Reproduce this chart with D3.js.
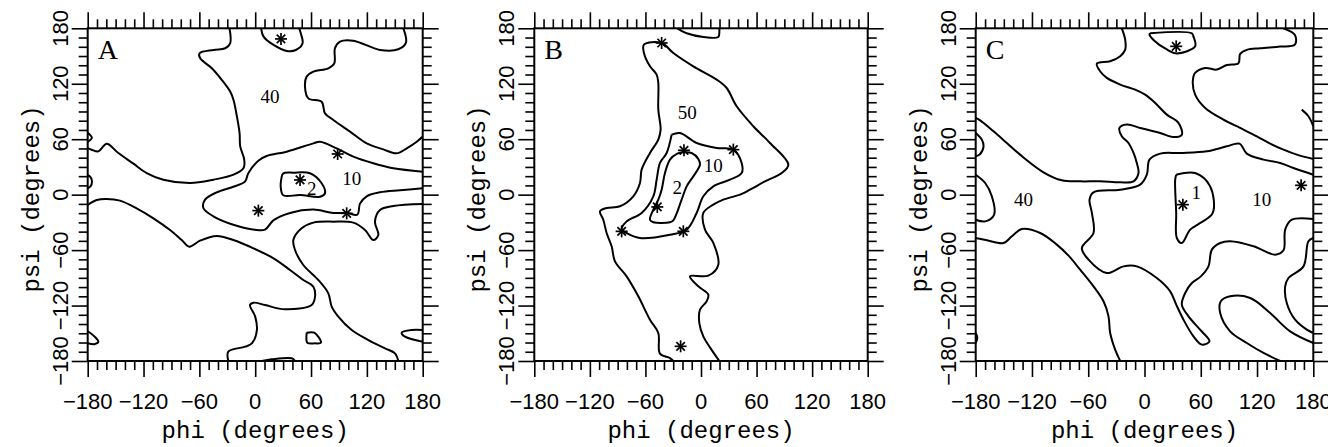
<!DOCTYPE html>
<html>
<head>
<meta charset="utf-8">
<script src="https://cdn.jsdelivr.net/npm/d3@7"></script>
<style>body{margin:0;background:#fff}</style>
</head>
<body>
<script>
// phi/psi maps, three panels. all data in degrees: [phi, psi]

var majorTicks = [-180, -120, -60, 0, 60, 120, 180];
var tickLabels = ["\u2212180", "\u2212120", "\u221260", "0", "60", "120", "180"];
var minorTicks = d3.range(-180, 181, 10).filter(function(v) { return v % 60 != 0; });
var panelNames = ["A", "B", "C"];

// Panel A contour lines
var contoursA = [
  [[6.4,180],[9,171],[19.7,162],[34,155.5],[43.7,156.5],[50.9,163.8],[49,174.6],[47.3,180]],
  [[-27.6,180],[-26.9,163.8],[-32.2,158.4],[-44.8,156.6],[-59.8,153],[-59.1,147.5],[-46.6,136.7],[-35.8,124],[-26.9,111.5],[-23.3,102.5],[-19.7,84.8],[-16.8,66.7],[-16.1,52.3],[-11.8,37.9],[-12.5,28.9],[-23.3,21.6],[-44.8,16.2],[-69.8,12.6],[-98.7,16.2],[-116.6,23.4],[-130.9,33.5],[-147.1,45],[-159.6,55.1],[-168.5,46.8],[-175.7,48.6],[-180,50.4]],
  [[-180,67],[-175.5,61.5],[-180,57]],
  [[-180,21],[-177,19],[-175.4,14],[-177,9],[-180,7]],
  [[-180,-11.2],[-170.3,-5.8],[-159.6,-4.7],[-145.3,-6.5],[-127.4,-14.8],[-109.4,-25.6],[-91.5,-38.3],[-79,-49.1],[-70.8,-56.3],[-59.3,-49.8],[-41.4,-44.7],[-23.5,-49.1],[-1.8,-58.1],[19.7,-68.9],[37.4,-81.5],[51.7,-92.4],[62.5,-99.6],[64.3,-110.4],[60.7,-119.4],[32,-124.1],[10.5,-119.4],[-1.8,-116.9],[-5.6,-119.4],[0,-132],[1.8,-146.5],[-3.6,-160.9],[-10.9,-164.5],[-28.9,-169.9],[-28.9,-180]],
  [[159.2,180],[162,164.5],[153.8,157.3],[134.1,156.6],[105.5,166.6],[91.1,165.6],[85.7,158.4],[85,142.1],[78.5,136.7],[62.5,133.1],[55.3,127.7],[53.5,116.9],[57.1,104.2],[71.4,100.6],[75,88],[84,80.8],[101.9,68.2],[119.8,55.5],[137.7,49],[152,44.7],[162.8,50.1],[173.6,57.3],[180,62.8]],
  [[180,24.9],[148.4,28.5],[126.9,33.9],[105.5,41.1],[87.5,50.1],[69.6,57.3],[62.5,55.5],[33.8,46.5],[12.3,41.8],[3.4,36.8],[-7.4,23.1],[-11,14.1],[-23.5,8.6],[-41.4,2.5],[-53.9,-5.4],[-55.7,-14.4],[-45,-23.4],[-23.5,-32.5],[-0.7,-37.9],[10.5,-37.9],[19.5,-27.8],[37.4,-19.8],[62.5,-16.2],[84,-19.8],[98.3,-19.8],[109.8,-21.6],[112.6,-9.7],[119.8,-1.8],[134.1,2.5],[155.6,4.7],[180,6.8]],
  [[28.5,19.5],[30.2,23.1],[41,23.8],[58.9,23.1],[71.4,12.3],[75,1.4],[69.6,-2.2],[48.2,-0.4],[30.2,-0.7],[27.4,8.6],[28.5,19.5]],
  [[180,-10.1],[148.4,-12.3],[134.1,-16.6],[128.7,-29.2],[132.3,-43.7],[126.9,-49.1],[118,-38.3],[105.5,-30.3],[84,-29.2],[62.5,-30.3],[49.9,-36.4],[41,-49.1],[42.8,-59.9],[51.7,-76.1],[67.9,-92.4],[78.6,-106.8],[82.2,-121.2],[89.3,-132],[103.7,-146.5],[121.6,-157.3],[139.5,-166.3],[150.2,-171.7],[153.8,-180]],
  [[-180,-148.3],[-177.5,-149.4],[-168.6,-159.1],[-172.1,-161.6],[-180,-160.8]],
  [[55.4,-149.4],[63.5,-149.4],[70.7,-160.2],[64.3,-160.9],[56,-160.2],[55.4,-149.4]],
  [[180,-146.5],[168.2,-146.5],[157.4,-149.4],[161,-153.7],[180,-159.1]],
  [[7,-180],[17.8,-178.2],[39.2,-177.1],[42.8,-180]]
];
var starsA = [[27.7,168.5],[48.2,15.9],[88.6,44],[3.4,-17.3],[98.3,-20.2]];
var labelsA = [["40",15.9,106],["10",103.7,17.7],["2",60.7,6.8]];

// Panel B contour lines
var contoursB = [
  [[-25.6,180],[-15.5,174.6],[2.5,170.6],[18.7,170.6],[19.8,176.4],[19.8,180]],
  [[-29.9,-180],[-33.5,-176.8],[-44.3,-172.1],[-46.1,-149.7],[-55.1,-135.3],[-67.7,-110],[-80.3,-88.4],[-92.9,-72.2],[-96.5,-55.9],[-101.9,-41.5],[-105.5,-27.1],[-109.1,-18],[-101.9,-14.4],[-87.5,-12.6],[-73.1,-1.8],[-65.9,12.6],[-64.1,27.1],[-55.1,45.1],[-46.1,59.5],[-43.6,70.3],[-46.1,92],[-46.1,120.9],[-47.9,129.9],[-55.1,138.9],[-61.6,153.3],[-61.6,162.3],[-42.5,164.1],[-29.9,153.3],[-8.3,138.9],[16.9,124.5],[27.7,115.4],[38.5,95.6],[56.5,74],[74.5,55.9],[94.3,32.5],[87.1,23.4],[69.1,14.4],[52.9,5.4],[42.1,0],[24.1,-5.4],[13.3,-10.8],[2.5,-19.8],[4.3,-37.9],[13.3,-52.3],[18.7,-75.8],[7.9,-87.7],[-11.9,-88.4],[-2.9,-99.2],[7.9,-108.2],[6.1,-115.4],[-1.1,-124.5],[-1.8,-138.9],[2.5,-153.3],[10.4,-166.3],[19.8,-180]],
  [[-31.7,64.9],[-22.7,66.7],[-4.7,55.9],[16.9,50.5],[34.9,48.7],[43.9,34.3],[43.9,23.4],[31.3,16.2],[13.3,9],[2.5,-1.8],[-4.7,-19.8],[-15.5,-37.9],[-33.5,-43.3],[-65.9,-46.9],[-80.3,-41.5],[-85.7,-37.9],[-80.3,-28.9],[-64.1,-19.8],[-51.5,-1.8],[-47.9,16.2],[-44.3,34.3],[-37.1,45.1],[-31.7,64.9]],
  [[-19.1,45.8],[-10.1,45.1],[-2.9,38.6],[-1.1,32.5],[-8.3,19.8],[-15.5,9],[-20.9,-5.4],[-29.9,-27.8],[-33.5,-29.9],[-51.5,-29.9],[-55.1,-27.1],[-51.5,-16.2],[-46.1,-5.4],[-42.5,5.4],[-38.9,23.4],[-33.5,37.9],[-25.6,44.4],[-19.1,45.8]]
];
var starsB = [[-42.5,164.1],[-18.4,48],[34.9,48.7],[-47.2,-13.3],[-85.7,-39.7],[-19.1,-39.7],[-22,-164.1]];
var labelsB = [["50",-14.8,88.4],["10",13.3,31.7],["2",-25.6,7.2]];

// Panel C contour lines
var contoursC = [
  [[-24.2,180],[-20.6,167.7],[-20.6,156.9],[-25.9,149.7],[-36.6,144.3],[-50.8,141.8],[-47.3,133.5],[-40.2,126.3],[-25.9,119.1],[-10,113.6],[0.7,108.2],[11.4,99.2],[23.8,86.6],[36.2,77.6],[39.8,64.9],[30.9,62.3],[16.7,66.7],[-4.6,72.2],[-18.8,75.8],[-26.7,72.2],[-24.2,63.1],[-17.1,55.9],[-11.7,45.1],[-8.2,34.3],[-6.4,23.4],[-11.7,14.4],[-25.9,13.3],[-47.3,14.4],[-68.6,14.4],[-88.2,15.5],[-107.7,24.2],[-132.7,43.3],[-146.8,55.9],[-161,68.5],[-175.2,80.4],[-180,83]],
  [[6,174.6],[50.5,174.6],[52.2,171],[54,160.5],[34.5,152.8],[23.8,157.1],[9.6,167.3],[5.3,173.4],[6,174.6]],
  [[148,180],[160.4,172.8],[160.4,162.3],[144.6,160.2],[123.3,158.4],[109.1,156.6],[102,152.3],[100.2,142.1],[87.8,140.3],[77.1,135.3],[64.7,137.1],[54,131.7],[51.5,122.7],[54,108.2],[64.7,93.8],[84.2,81.2],[102,72.2],[119.8,63.1],[134,55.2],[148.2,48.7],[162.4,43.3],[180,38.6]],
  [[167.7,92],[174.8,84.8],[180,74]],
  [[180,21.6],[158.8,28.9],[144.6,34.3],[126.9,37.9],[109.1,44.4],[101.3,55.2],[87.8,52.3],[66.5,46.9],[38,45.1],[16.7,44.4],[5.3,37.9],[2.5,21.6],[-4.6,10.8],[-25.9,5.4],[-54.4,2.5],[-58.6,-5.4],[-56.1,-19.8],[-54.4,-41.5],[-66.8,-57.7],[-59.7,-70.3],[-40.2,-84.8],[-22.4,-77.6],[-8.2,-77.6],[13.1,-90.2],[27.4,-104.6],[33.8,-119],[41.6,-135.3],[52.2,-153.3],[61.1,-162.3],[69.3,-158.7],[59.3,-146.1],[46.9,-131.7],[39.8,-119],[43.4,-106.4],[50.5,-95.6],[60.1,-88.4],[68.2,-77.6],[71.8,-59.5],[80.7,-52.3],[91.3,-50.5],[116.2,-55.9],[139.3,-64.9],[148.2,-60.2],[150,-37.9],[157.1,-27.1],[180,-26.3]],
  [[33.8,21.6],[54,23.4],[70,9],[72.8,-19.8],[59.3,-30.7],[48.7,-37.9],[39.8,-52.3],[34.5,-46.9],[33.8,-19.8],[32.7,16.2],[33.8,21.6]],
  [[-180,66.7],[-173.4,59.5],[-171.6,52.3],[-175.9,43.3],[-180,41.5]],
  [[-180,21.6],[-169.9,12.6],[-162.8,-1.8],[-160.3,-21.6],[-169.9,-28.9],[-180,-27.1]],
  [[-180,-46.9],[-168.1,-49.4],[-150.3,-52.3],[-141.4,-45.1],[-130.8,-37.2],[-111.2,-41.5],[-93.5,-54.1],[-81,-66],[-68.6,-81.2],[-54.4,-99.2],[-43.7,-115.4],[-38.4,-131.7],[-36.6,-149.7],[-31.3,-167.7],[-25.9,-180]],
  [[180,-46.9],[174.8,-50.5],[169.5,-77.6],[153.5,-90.2],[150,-99.2],[151.7,-117.2],[160.6,-135.3],[173.1,-146.1],[180,-149.7]],
  [[180,-160.5],[155.3,-147.9],[134,-128.1],[112.7,-111.8],[91.3,-110],[81.4,-115.4],[80.7,-128.1],[91.3,-147.9],[109.1,-160.5],[126.9,-171.3],[144.6,-180]],
  [[-180,-149.7],[-178.3,-155],[-180,-160.5]]
];
var starsC = [[33.8,160.5],[40.9,-10.8],[167,10.1]];
var labelsC = [["40",-129,-5.4],["10",125.1,-5.4],["1",55.1,2.5]];

var allContours = [contoursA, contoursB, contoursC];
var allStars = [starsA, starsB, starsC];
var allLabels = [labelsA, labelsB, labelsC];

var width = 1328, height = 447;
var plotTop = 28.3, plotBottom = 361;
var panelLeft = [87.7, 534.3, 975.7];
var panelRight = [422.7, 867.7, 1313.3];

var sansFont = "'Liberation Sans', Arial, Helvetica, sans-serif";
var monoFont = "'Liberation Mono', 'Courier New', monospace";
var serifFont = "'Liberation Serif', 'Times New Roman', serif";

var svg = d3.select("body").append("svg")
  .attr("width", width)
  .attr("height", height)
  .style("background", "#fff");

panelNames.forEach(function(name, p) {
  var x = d3.scaleLinear().domain([-180, 180]).range([panelLeft[p], panelRight[p]]);
  var y = d3.scaleLinear().domain([-180, 180]).range([plotBottom, plotTop]);
  var g = svg.append("g");

  // clip for the contour lines
  g.append("clipPath").attr("id", "clip" + name)
    .append("rect")
      .attr("x", panelLeft[p]).attr("y", plotTop)
      .attr("width", panelRight[p] - panelLeft[p])
      .attr("height", plotBottom - plotTop);

  var line = d3.line()
    .x(function(d) { return x(d[0]); })
    .y(function(d) { return y(d[1]); })
    .curve(d3.curveCatmullRom.alpha(0.5));

  g.append("g").attr("clip-path", "url(#clip" + name + ")")
    .selectAll("path")
    .data(allContours[p])
    .enter().append("path")
      .attr("d", line)
      .attr("fill", "none")
      .attr("stroke", "#000")
      .attr("stroke-width", 2)
      .attr("stroke-linejoin", "round");

  // ticks on all four sides, outward
  function ticks(axis, tr) {
    g.append("g").attr("transform", tr)
      .call(axis.tickValues(minorTicks).tickSize(9).tickFormat(""))
      .call(function(s) { s.select(".domain").remove(); s.selectAll("line").attr("stroke-width", 1.6); });
    g.append("g").attr("transform", tr)
      .call(axis.tickValues(majorTicks).tickSize(16).tickFormat(""))
      .call(function(s) { s.select(".domain").remove(); s.selectAll("line").attr("stroke-width", 1.6); });
  }
  ticks(d3.axisBottom(x), "translate(0," + plotBottom + ")");
  ticks(d3.axisTop(x), "translate(0," + plotTop + ")");
  ticks(d3.axisLeft(y), "translate(" + panelLeft[p] + ",0)");
  ticks(d3.axisRight(y), "translate(" + panelRight[p] + ",0)");

  g.append("rect")
    .attr("x", panelLeft[p]).attr("y", plotTop)
    .attr("width", panelRight[p] - panelLeft[p])
    .attr("height", plotBottom - plotTop)
    .attr("fill", "none")
    .attr("stroke", "#000")
    .attr("stroke-width", 2);

  // tick labels
  g.selectAll(".xl").data(majorTicks).enter().append("text")
    .attr("x", function(d) { return x(d); })
    .attr("y", plotBottom + 48)
    .attr("text-anchor", "middle")
    .style("font-family", sansFont).style("font-size", "22px")
    .text(function(d, i) { return tickLabels[i]; });

  g.selectAll(".yl").data(majorTicks).enter().append("text")
    .attr("transform", function(d) { return "translate(" + (panelLeft[p] - 20) + "," + y(d) + ") rotate(-90)"; })
    .attr("text-anchor", "middle")
    .style("font-family", sansFont).style("font-size", "22px")
    .text(function(d, i) { return tickLabels[i]; });

  // axis titles
  g.append("text")
    .attr("x", (panelLeft[p] + panelRight[p]) / 2)
    .attr("y", 438)
    .attr("text-anchor", "middle")
    .style("font-family", monoFont).style("font-size", "24px")
    .text("phi (degrees)");

  g.append("text")
    .attr("transform", "translate(" + (panelLeft[p] - 49) + "," + 199 + ") rotate(-90)")
    .attr("text-anchor", "middle")
    .style("font-family", monoFont).style("font-size", "24px")
    .text("psi (degrees)");

  // panel letter
  g.append("text")
    .attr("x", panelLeft[p] + 10)
    .attr("y", plotTop + 31)
    .style("font-family", serifFont).style("font-size", "28px")
    .text(name);

  // contour level labels
  g.selectAll(".cl").data(allLabels[p]).enter().append("text")
    .attr("x", function(d) { return x(d[1]); })
    .attr("y", function(d) { return y(d[2]); })
    .attr("text-anchor", "middle")
    .attr("dominant-baseline", "central")
    .style("font-family", serifFont).style("font-size", "19px")
    .text(function(d) { return d[0]; });

  // asterisks
  var star = g.selectAll(".star").data(allStars[p]).enter().append("g")
    .attr("transform", function(d) { return "translate(" + x(d[0]) + "," + y(d[1]) + ")"; });
  [0, 45, 90, 135].forEach(function(a) {
    star.append("line")
      .attr("x1", 0).attr("y1", -6).attr("x2", 0).attr("y2", 6)
      .attr("transform", "rotate(" + a + ")")
      .attr("stroke", "#000")
      .attr("stroke-width", 1.7);
  });
});
</script>
</body>
</html>
